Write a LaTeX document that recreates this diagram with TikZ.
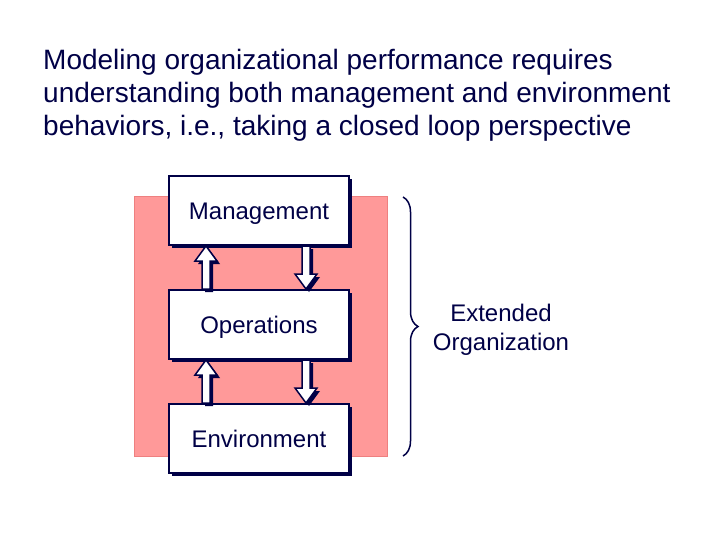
\documentclass[tikz,border=0pt]{standalone}
\usepackage{fontspec}
\setmainfont{Liberation Sans}
\usetikzlibrary{shadows,calc,decorations.pathreplacing}
\definecolor{navy}{RGB}{0,0,70}
\definecolor{salmon}{RGB}{255,153,153}
\definecolor{salmonline}{RGB}{238,128,128}

\begin{document}
\begin{tikzpicture}[x=1pt,y=-1pt]
        \tikzstyle{every node}=[text=navy]
        \tikzstyle{darkshadow}=[drop shadow={shadow xshift=3pt,shadow yshift=-3pt,opacity=1,fill=navy}]
        \tikzstyle{block}=[draw=navy,line width=2pt,fill=white,minimum width=180pt,minimum height=69pt,text height=17pt,text depth=0pt,font=\fontsize{24}{29}\selectfont,darkshadow]
        \tikzstyle{fatarrow}=[draw=navy,line width=1.5pt,fill=white,darkshadow,to path={let \p1=(\tikztostart), \p2=(\tikztotarget), \n1={sign(\y2-\y1)} in (\x1-4,\y1) -- (\x1-4,\y2-15*\n1) -- (\x1-11,\y2-15*\n1) -- (\x2,\y2) -- (\x1+11,\y2-15*\n1) -- (\x1+4,\y2-15*\n1) -- (\x1+4,\y1) -- cycle}]
        \useasboundingbox (0,0) rectangle (720,540);
        \node[anchor=base west,align=left,inner sep=0pt,font=\fontsize{28}{33}\selectfont] (title) at (43,136) {Modeling organizational performance requires\\understanding both management and environment\\behaviors, i.e., taking a closed loop perspective};
        \draw[salmonline,fill=salmon] (134,196) rectangle (387,456);
        \node[block] (mgmt) at (259,210.5) {Management};
        \node[block] (ops) at (259,324.5) {Operations};
        \node[block] (env) at (259,438.5) {Environment};
        \draw[fatarrow] ([xshift=38pt]ops.north west) to ([xshift=38pt]mgmt.south west);
        \draw[fatarrow] ([xshift=138pt]mgmt.south west) to ([xshift=138pt]ops.north west);
        \draw[fatarrow] ([xshift=38pt]env.north west) to ([xshift=38pt]ops.south west);
        \draw[fatarrow] ([xshift=138pt]ops.south west) to ([xshift=138pt]env.north west);
        \coordinate (bracetop) at (403,197);
        \coordinate (bracebot) at (403,456);
        \draw[navy,line width=1.5pt,decorate,decoration={brace,amplitude=15pt}] (bracetop) -- (bracebot);
        \node[align=center,font=\fontsize{24}{29}\selectfont] (ext) at (501,330) {Extended\\Organization};
\end{tikzpicture}
\end{document}
